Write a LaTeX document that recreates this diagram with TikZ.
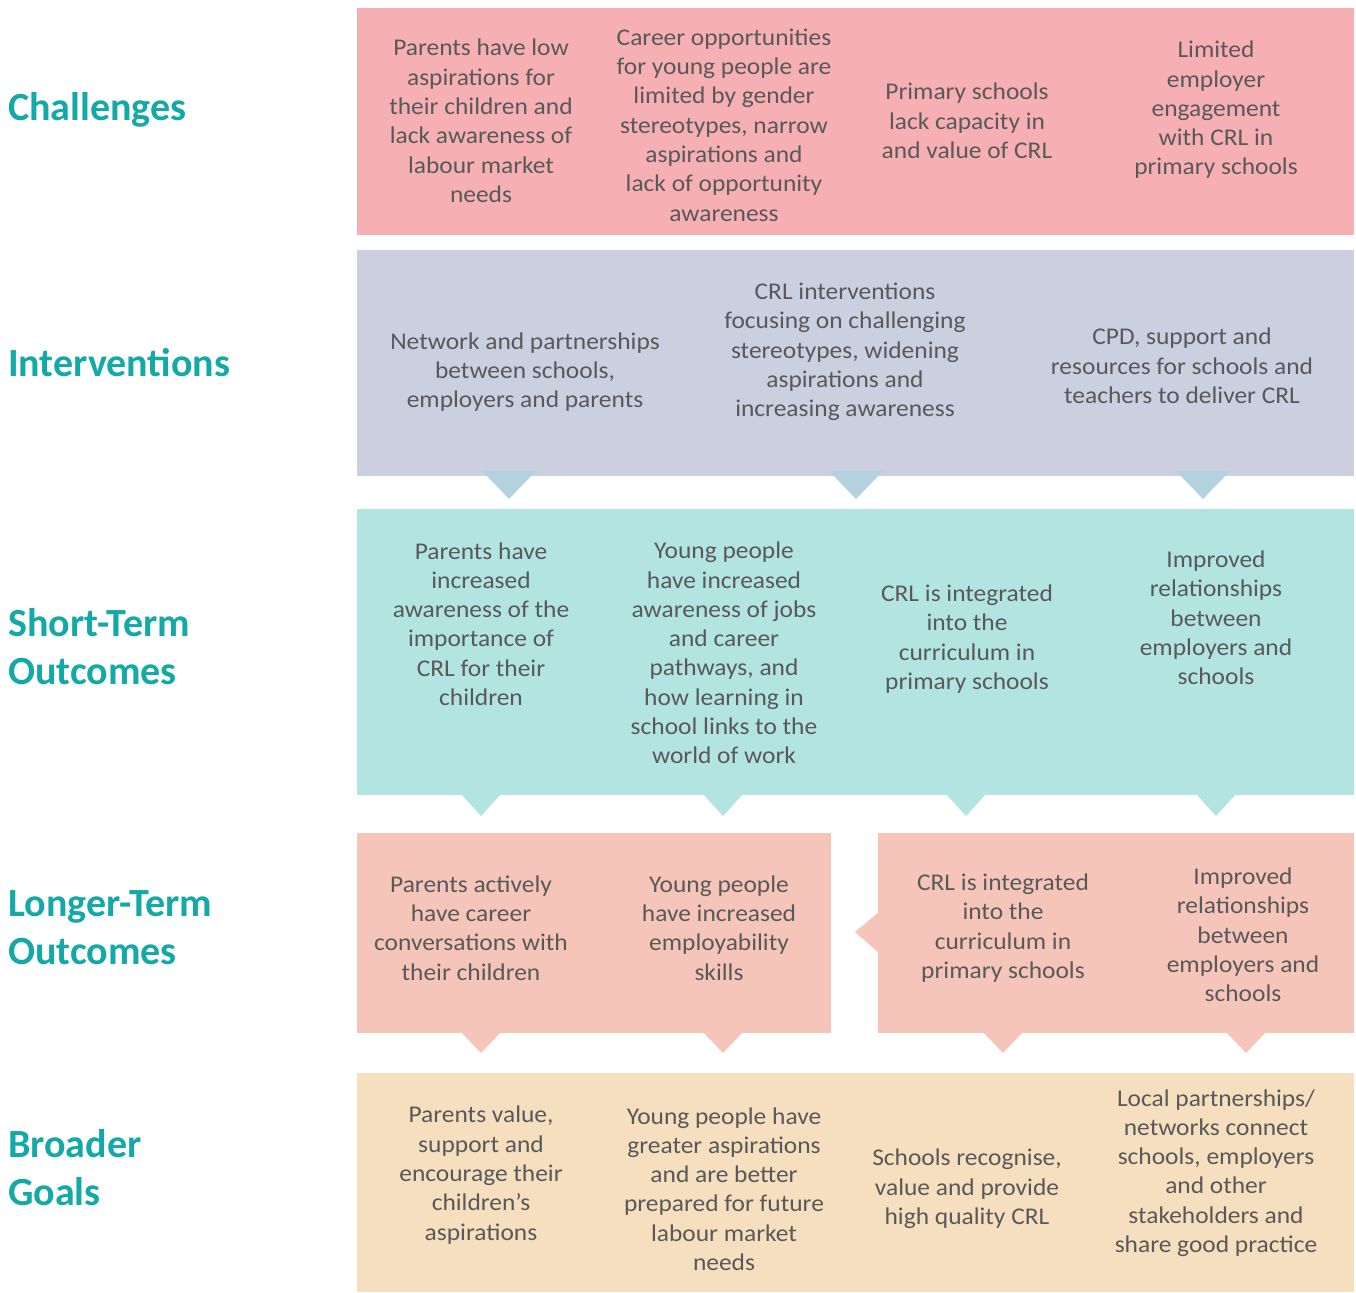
\documentclass[tikz,border=0pt]{standalone}
\usepackage{fontspec}
\setmainfont{Carlito}
\newfontfamily\bodyfont[FakeStretch=1.06, Ligatures=TeX]{Carlito}
\usepackage{xcolor}
\usepackage{tikz}
\usetikzlibrary{positioning}
\usetikzlibrary{calc}

\definecolor{headteal}{HTML}{14A9A6}
\definecolor{txtgrey}{HTML}{595959}
\definecolor{chalpink}{HTML}{F6AFB3}
\definecolor{intlilac}{HTML}{CBCFE0}
\definecolor{intarrow}{HTML}{B3D2DE}
\definecolor{shortaqua}{HTML}{B2E4E2}
\definecolor{longpeach}{HTML}{F6C5B9}
\definecolor{goalsand}{HTML}{F6DFBF}

\tikzset{
	band/.style={inner sep=0, outer sep=0, anchor=north west},
	txt/.style={text=txtgrey, align=center, inner sep=0, font=\bodyfont\fontsize{24}{29.3}\selectfont},
	head/.style={text=headteal, align=left, anchor=west, inner sep=0, font=\fontsize{40}{48}\selectfont\bfseries},
}

\begin{document}
\begin{tikzpicture}[x=1pt, y=-1pt]
	\useasboundingbox (0,0) rectangle (1356,1292);

	% row headings
	\node[head] (hchal) at (8,110) {Challenges};
	\node[head] (hint) at (8,363) {Interventions};
	\node[head] (hshort) at (8,647) {Short-Term\\Outcomes};
	\node[head] (hlong) at (8,928) {Longer-Term\\Outcomes};
	\node[head] (hgoal) at (8,1168) {Broader\\Goals};

	% bands
	\node[band, fill=chalpink, minimum width=997, minimum height=227] (chal) at (357,8) {};
	\node[band, fill=intlilac, minimum width=997, minimum height=226] (int) at (357,250) {};
	\node[band, fill=shortaqua, minimum width=997, minimum height=286] (short) at (357,509) {};
	\node[band, fill=longpeach, minimum width=474, minimum height=200] (longl) at (357,833) {};
	\node[band, fill=longpeach, minimum width=476, minimum height=200] (longr) at (878,833) {};
	\node[band, fill=goalsand, minimum width=997, minimum height=219] (goal) at (357,1073) {};

	% pointers
	\foreach \cx in {509,856,1203}
		\fill[intarrow] (\cx-27,471) -- (\cx+27,471) -- (\cx,499) -- cycle;
	\foreach \cx in {481,723,966,1216}
		\fill[shortaqua] (\cx-20,794) -- (\cx+20,794) -- (\cx,816) -- cycle;
	\foreach \cx in {481,723,1003,1246}
		\fill[longpeach] (\cx-20,1032) -- (\cx+20,1032) -- (\cx,1053) -- cycle;
	\fill[longpeach] (879,912) -- (879,953) -- (855,932) -- cycle;

	% challenges
	\node[txt] (c1) at (481,121) {Parents have low\\aspirations for\\their children and\\lack awareness of\\labour market\\needs};
	\node[txt] (c2) at (724,125) {Career opportunities\\for young people are\\limited by gender\\stereotypes, narrow\\aspirations and\\lack of opportunity\\awareness};
	\node[txt] (c3) at (967,121) {Primary schools\\lack capacity in\\and value of CRL};
	\node[txt] (c4) at (1216,110) {Limited\\employer\\engagement\\with CRL in\\primary schools};

	% interventions
	\node[txt] (i1) at (525,372) {Network and partnerships\\between schools,\\employers and parents};
	\node[txt] (i2) at (845,352) {CRL interventions\\focusing on challenging\\stereotypes, widening\\aspirations and\\increasing awareness};
	\node[txt] (i3) at (1182,366) {CPD, support and\\resources for schools and\\teachers to deliver CRL};

	% short-term outcomes
	\node[txt] (s1) at (481,624) {Parents have\\increased\\awareness of the\\importance of\\CRL for their\\children};
	\node[txt] (s2) at (724,653) {Young people\\have increased\\awareness of jobs\\and career\\pathways, and\\how learning in\\school links to the\\world of work};
	\node[txt] (s3) at (967,639) {CRL is integrated\\into the\\curriculum in\\primary schools};
	\node[txt] (s4) at (1216,618) {Improved\\relationships\\between\\employers and\\schools};

	% longer-term outcomes
	\node[txt] (l1) at (471,928) {Parents actively\\have career\\conversations with\\their children};
	\node[txt] (l2) at (719,928) {Young people\\have increased\\employability\\skills};
	\node[txt] (l3) at (1003,928) {CRL is integrated\\into the\\curriculum in\\primary schools};
	\node[txt] (l4) at (1243,935) {Improved\\relationships\\between\\employers and\\schools};

	% broader goals
	\node[txt] (g1) at (481,1175) {Parents value,\\support and\\encourage their\\children’s\\aspirations};
	\node[txt] (g2) at (724,1189) {Young people have\\greater aspirations\\and are better\\prepared for future\\labour market\\needs};
	\node[txt] (g3) at (967,1189) {Schools recognise,\\value and provide\\high quality CRL};
	\node[txt] (g4) at (1216,1173) {Local partnerships/\\networks connect\\schools, employers\\and other\\stakeholders and\\share good practice};
\end{tikzpicture}
\end{document}
